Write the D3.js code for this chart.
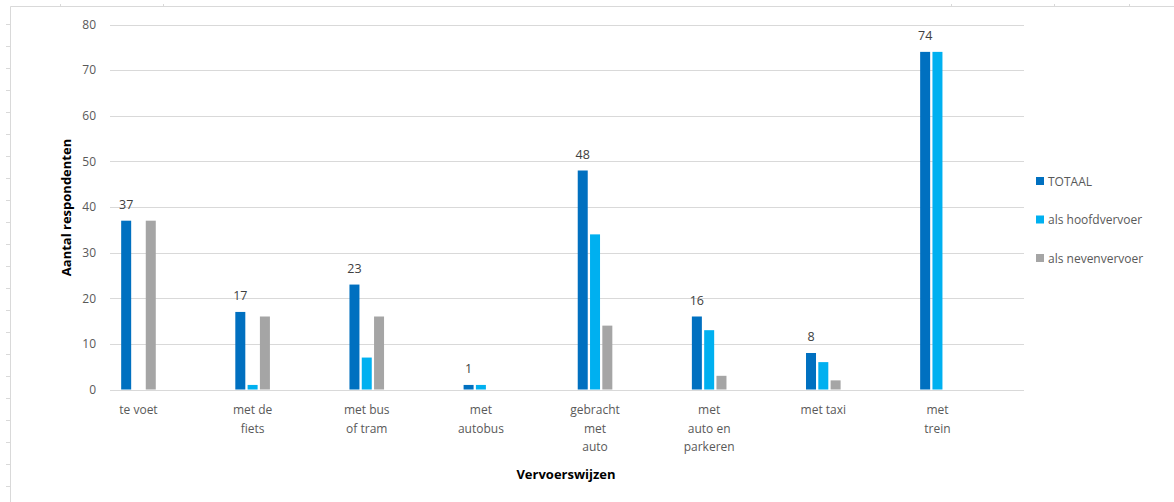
<!DOCTYPE html>
<html>
<head>
<meta charset="utf-8">
<script src="https://cdn.jsdelivr.net/npm/d3@7"></script>
<style>
  html, body { margin: 0; padding: 0; background: #fff; }
  svg { display: block; }
  text { font-family: "Open Sans", Lato, sans-serif; }
</style>
</head>
<body>
<svg id="chart" width="1174" height="502"></svg>
<script>
// Vervoerswijzen (categorieën) met regelafbreking voor de as-labels
const categories = [
  ["te voet"],
  ["met de", "fiets"],
  ["met bus", "of tram"],
  ["met", "autobus"],
  ["gebracht", "met", "auto"],
  ["met", "auto en", "parkeren"],
  ["met taxi"],
  ["met", "trein"]
];
const seriesNames = ["TOTAAL", "als hoofdvervoer", "als nevenvervoer"];
const totaal        = [37, 17, 23, 1, 48, 16, 8, 74];
const hoofdvervoer  = [0, 1, 7, 1, 34, 13, 6, 74];
const nevenvervoer  = [37, 16, 16, 0, 14, 3, 2, 0];
const yTicks = [0, 10, 20, 30, 40, 50, 60, 70, 80];
const colors = ["#0070C0", "#00B0F0", "#A5A5A5"];

const series = [totaal, hoofdvervoer, nevenvervoer];
const svg = d3.select("#chart");
const textColor = "#595959";

// Kader van het werkblad
svg.append("line").attr("x1", 10.5).attr("x2", 1174).attr("y1", 6.5).attr("y2", 6.5)
  .attr("stroke", "#D9D9D9");
svg.append("line").attr("x1", 10.5).attr("x2", 10.5).attr("y1", 6.5).attr("y2", 502)
  .attr("stroke", "#D9D9D9");
[60, 163, 951, 1054, 1129].forEach(x => {
  svg.append("line").attr("x1", x + 0.5).attr("x2", x + 0.5).attr("y1", 4).attr("y2", 6)
    .attr("stroke", "#D9D9D9");
});
d3.range(24, 502, 22).forEach(y => {
  svg.append("line").attr("x1", 6).attr("x2", 10).attr("y1", y + 0.5).attr("y2", y + 0.5)
    .attr("stroke", "#D9D9D9");
});

// Schalen
const y = d3.scaleLinear().domain([0, 80]).range([389.5, 24.5]);
const x = d3.scaleBand().domain(d3.range(categories.length))
  .range([81.4, 81.4 + 8 * 114.14]).paddingInner(0).paddingOuter(0);
const slot = 12.3, barW = 10;
const gridX1 = 110, gridX2 = 1024;

// Rasterlijnen
svg.append("g").selectAll("line").data(yTicks).join("line")
  .attr("x1", gridX1).attr("x2", gridX2)
  .attr("y1", d => Math.round(y(d)) + 0.5).attr("y2", d => Math.round(y(d)) + 0.5)
  .attr("stroke", "#D9D9D9").attr("stroke-width", 1);

// Y-as labels
const yAxis = d3.axisLeft(y).tickValues(yTicks).tickSize(0).tickPadding(0);
const gy = svg.append("g").attr("transform", "translate(96,0)").call(yAxis);
gy.select(".domain").remove();
gy.selectAll("text").attr("fill", textColor).attr("font-size", 12)
  .attr("font-family", "'Open Sans', sans-serif");

// Staven
series.forEach((vals, s) => {
  svg.append("g").selectAll("rect").data(vals).join("rect")
    .attr("x", (d, i) => x(i) + x.bandwidth() / 2 + (s - 1) * slot - barW / 2)
    .attr("y", d => y(d))
    .attr("width", barW)
    .attr("height", d => y(0) - y(d))
    .attr("fill", colors[s]);
});

// Waardelabels bij TOTAAL
svg.append("g").selectAll("text").data(totaal).join("text")
  .attr("x", (d, i) => x(i) + x.bandwidth() / 2 - slot)
  .attr("y", d => y(d) - 12)
  .attr("text-anchor", "middle")
  .attr("font-size", 12.5)
  .attr("fill", "#404040")
  .text(d => d);

// Categorie-labels
const xl = svg.append("g");
categories.forEach((lines, i) => {
  const t = xl.append("text")
    .attr("x", x(i) + x.bandwidth() / 2)
    .attr("y", 414)
    .attr("text-anchor", "middle")
    .attr("font-size", 12)
    .attr("fill", textColor);
  lines.forEach((ln, k) => {
    t.append("tspan").attr("x", x(i) + x.bandwidth() / 2).attr("y", 414 + k * 18.5).text(ln);
  });
});

// As-titels
svg.append("text")
  .attr("transform", "translate(71,207.5) rotate(-90)")
  .attr("text-anchor", "middle")
  .attr("font-size", 13).attr("font-weight", "bold").attr("fill", "#000")
  .text("Aantal respondenten");
svg.append("text")
  .attr("x", 566).attr("y", 478.5)
  .attr("text-anchor", "middle")
  .attr("font-size", 13).attr("font-weight", "bold").attr("fill", "#000")
  .text("Vervoerswijzen");

// Legenda
const leg = svg.append("g");
seriesNames.forEach((name, s) => {
  const ly = 181 + s * 38.5;
  leg.append("rect").attr("x", 1036).attr("y", ly - 4).attr("width", 8).attr("height", 8)
    .attr("fill", colors[s]);
  leg.append("text").attr("x", 1048).attr("y", ly + 4.5)
    .attr("font-size", 12).attr("fill", textColor).text(name);
});
</script>
</body>
</html>
